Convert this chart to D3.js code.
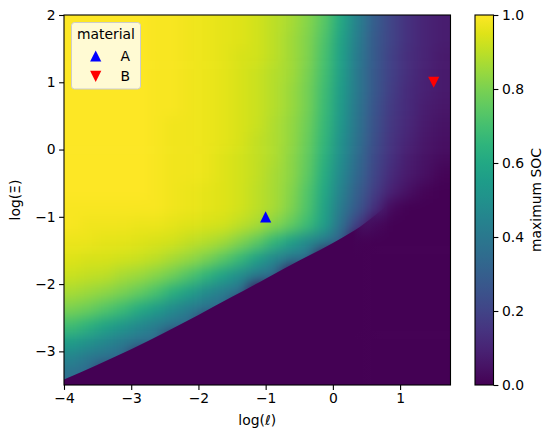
<!DOCTYPE html>
<html>
<head>
<meta charset="utf-8">
<script src="https://cdn.jsdelivr.net/npm/d3@7"></script>
<style>
  body { margin: 0; background: #fff; }
  svg text { font-family: "DejaVu Sans", sans-serif; font-size: 13.9px; fill: #000; }
</style>
</head>
<body>
<svg id="chart" width="554" height="442"></svg>
<script>
// cell centres of the SOC grid
const logL = [-3.875, -3.625, -3.375, -3.125, -2.875, -2.625, -2.375, -2.125, -1.875, -1.625, -1.375, -1.125,
  -0.875, -0.625, -0.375, -0.125, 0.125, 0.375, 0.625, 0.875, 1.125, 1.375, 1.625];
const logXi = [1.875, 1.625, 1.375, 1.125, 0.875, 0.625, 0.375, 0.125, -0.125, -0.375, -0.625, -0.875,
  -1.125, -1.375, -1.625, -1.875, -2.125, -2.375, -2.625, -2.875, -3.125, -3.375];

// maximum SOC, one row per logXi value (top to bottom)
const soc = [
  [1.0,1.0,1.0,1.0,1.0,0.99,0.99,0.98,0.97,0.96,0.95,0.93,0.90,0.87,0.82,0.74,0.60,0.43,0.29,0.20,0.14,0.10,0.08],
  [1.0,1.0,1.0,1.0,1.0,0.99,0.99,0.98,0.97,0.96,0.95,0.93,0.90,0.86,0.81,0.72,0.58,0.42,0.28,0.20,0.14,0.10,0.08],
  [1.0,1.0,1.0,1.0,1.0,0.99,0.99,0.98,0.97,0.96,0.94,0.93,0.90,0.86,0.81,0.71,0.57,0.41,0.28,0.19,0.13,0.10,0.07],
  [1.0,1.0,1.0,1.0,1.0,0.99,0.99,0.98,0.97,0.96,0.94,0.92,0.89,0.86,0.80,0.70,0.56,0.40,0.27,0.19,0.13,0.09,0.07],
  [1.0,1.0,1.0,1.0,1.0,0.99,0.99,0.98,0.97,0.96,0.94,0.92,0.89,0.85,0.79,0.69,0.55,0.40,0.27,0.18,0.12,0.09,0.07],
  [1.0,1.0,1.0,1.0,1.0,0.99,0.99,0.98,0.97,0.96,0.94,0.92,0.89,0.85,0.79,0.68,0.54,0.39,0.26,0.17,0.12,0.08,0.06],
  [1.0,1.0,1.0,1.0,1.0,0.99,0.98,0.98,0.97,0.96,0.94,0.92,0.88,0.84,0.78,0.67,0.53,0.38,0.25,0.16,0.11,0.07,0.05],
  [1.0,1.0,1.0,1.0,1.0,0.99,0.98,0.98,0.97,0.96,0.94,0.91,0.88,0.84,0.77,0.66,0.51,0.37,0.24,0.15,0.10,0.06,0.04],
  [1.0,1.0,1.0,1.0,1.0,0.99,0.98,0.98,0.97,0.95,0.93,0.91,0.88,0.83,0.76,0.64,0.49,0.35,0.22,0.14,0.08,0.05,0.03],
  [1.0,1.0,1.0,1.0,1.0,0.99,0.98,0.98,0.97,0.95,0.93,0.91,0.87,0.83,0.75,0.62,0.47,0.33,0.21,0.12,0.07,0.04,0.01],
  [1.0,1.0,1.0,1.0,1.0,0.99,0.98,0.97,0.96,0.95,0.93,0.90,0.87,0.82,0.73,0.60,0.44,0.30,0.18,0.09,0.04,0.01,0.0],
  [0.99,0.99,0.99,0.99,0.99,0.99,0.98,0.97,0.96,0.95,0.93,0.90,0.87,0.81,0.72,0.58,0.41,0.27,0.14,0.02,0.0,0.0,0.0],
  [0.99,0.98,0.98,0.98,0.97,0.97,0.96,0.95,0.94,0.93,0.90,0.87,0.82,0.76,0.68,0.56,0.37,0.18,0.03,0.0,0.0,0.0,0.0],
  [0.97,0.97,0.96,0.96,0.95,0.94,0.93,0.91,0.89,0.86,0.81,0.75,0.66,0.57,0.48,0.41,0.30,0.0,0.0,0.0,0.0,0.0,0.0],
  [0.95,0.94,0.94,0.93,0.92,0.90,0.87,0.84,0.80,0.74,0.67,0.57,0.47,0.40,0.36,0.0,0.0,0.0,0.0,0.0,0.0,0.0,0.0],
  [0.92,0.91,0.90,0.87,0.85,0.82,0.78,0.72,0.65,0.57,0.49,0.41,0.35,0.0,0.0,0.0,0.0,0.0,0.0,0.0,0.0,0.0,0.0],
  [0.87,0.85,0.83,0.80,0.76,0.71,0.63,0.56,0.48,0.42,0.36,0.0,0.0,0.0,0.0,0.0,0.0,0.0,0.0,0.0,0.0,0.0,0.0],
  [0.80,0.77,0.73,0.68,0.61,0.55,0.48,0.42,0.37,0.33,0.0,0.0,0.0,0.0,0.0,0.0,0.0,0.0,0.0,0.0,0.0,0.0,0.0],
  [0.69,0.64,0.58,0.53,0.47,0.42,0.37,0.33,0.0,0.0,0.0,0.0,0.0,0.0,0.0,0.0,0.0,0.0,0.0,0.0,0.0,0.0,0.0],
  [0.55,0.50,0.46,0.41,0.37,0.34,0.0,0.0,0.0,0.0,0.0,0.0,0.0,0.0,0.0,0.0,0.0,0.0,0.0,0.0,0.0,0.0,0.0],
  [0.44,0.39,0.36,0.33,0.0,0.0,0.0,0.0,0.0,0.0,0.0,0.0,0.0,0.0,0.0,0.0,0.0,0.0,0.0,0.0,0.0,0.0,0.0],
  [0.36,0.33,0.0,0.0,0.0,0.0,0.0,0.0,0.0,0.0,0.0,0.0,0.0,0.0,0.0,0.0,0.0,0.0,0.0,0.0,0.0,0.0,0.0]
];

// edge of the zero-SOC region (log ℓ, log Ξ); sharp on the left, fading out past log ℓ ≈ 0.3
const edgeL = [-4, -3.5, -3, -2.5, -2, -1.5, -1, -0.5, 0, 0.25, 0.4, 0.6, 0.9, 1.2, 1.5, 1.75];
const edgeXi = [-3.42, -3.2, -2.97, -2.72, -2.46, -2.19, -1.92, -1.65, -1.39, -1.245, -1.15, -1.0, -0.75, -0.5, -0.26, -0.05];
const edgeFade = [0.3, 0.8];

// the two materials
const materials = ["A", "B"];
const matLogL = [-1, 1.5];
const matLogXi = [-1, 1];
const matColors = ["#0000ff", "#ff0000"];

const xTicks = [-4, -3, -2, -1, 0, 1];
const yTicks = [-3, -2, -1, 0, 1, 2];
const cTicks = [0, 0.2, 0.4, 0.6, 0.8, 1.0];

const PLOT = { left: 64, right: 450.5, top: 15, bottom: 385 };
const CBAR = { left: 475, right: 493.5 };
const TICK = 4.9;
const LW = 1.1;

const $svg = d3.select('#chart');
const defs = $svg.append('defs');

const x = d3.scaleLinear().domain([-4, 1.75]).range([PLOT.left, PLOT.right]);
const y = d3.scaleLinear().domain([-3.5, 2]).range([PLOT.bottom, PLOT.top]);
const colour = d3.scaleSequential(d3.interpolateViridis).domain([0, 1]);

// heat map -------------------------------------------------------------
defs.append('clipPath').attr('id', 'plotclip')
  .append('rect')
  .attr('x', PLOT.left).attr('y', PLOT.top)
  .attr('width', PLOT.right - PLOT.left).attr('height', PLOT.bottom - PLOT.top);

defs.append('filter').attr('id', 'smooth')
  .attr('filterUnits', 'userSpaceOnUse')
  .attr('x', 0).attr('y', 0).attr('width', 554).attr('height', 442)
  .attr('color-interpolation-filters', 'sRGB')
  .append('feGaussianBlur').attr('in', 'SourceGraphic').attr('stdDeviation', 6.5);

const stepL = logL[1] - logL[0];
const stepXi = logXi[0] - logXi[1];
const cells = [];
soc.forEach((row, j) => row.forEach((v, i) => cells.push({ i, j, lx: logL[i], ly: logXi[j], v })));

const pad = 30; // stretch outer cells so the blur has no edge fade
const $plot = $svg.append('g').attr('clip-path', 'url(#plotclip)');
const $heat = $plot.append('g').attr('filter', 'url(#smooth)');

$heat.selectAll('rect')
  .data(cells)
  .enter().append('rect')
  .attr('x', d => x(d.lx - stepL / 2) - (d.i === 0 ? pad : 0) - 0.3)
  .attr('y', d => y(d.ly + stepXi / 2) - (d.j === 0 ? pad : 0) - 0.3)
  .attr('width', d => x(d.lx + stepL / 2) - x(d.lx - stepL / 2) + 0.6 + (d.i === 0 || d.i === logL.length - 1 ? pad : 0))
  .attr('height', d => y(d.ly - stepXi / 2) - y(d.ly + stepXi / 2) + 0.6 + (d.j === 0 || d.j === logXi.length - 1 ? pad : 0))
  .attr('fill', d => colour(d.v));

// sharp lower edge of the zero region, fading out to the right
const fade = defs.append('linearGradient').attr('id', 'edgefade')
  .attr('gradientUnits', 'userSpaceOnUse')
  .attr('x1', x(edgeFade[0])).attr('x2', x(edgeFade[1])).attr('y1', 0).attr('y2', 0);
fade.append('stop').attr('offset', 0).attr('stop-color', colour(0)).attr('stop-opacity', 1);
fade.append('stop').attr('offset', 1).attr('stop-color', colour(0)).attr('stop-opacity', 0);

const zeroArea = d3.area()
  .x(d => x(d[0]))
  .y0(PLOT.bottom + 10)
  .y1(d => y(d[1]))
  .curve(d3.curveMonotoneX);

$plot.append('path')
  .datum(edgeL.map((l, k) => [l, edgeXi[k]]))
  .attr('d', zeroArea)
  .attr('fill', 'url(#edgefade)');

// axes -------------------------------------------------------------------
const fmtInt = d3.format('d');
const axisX = d3.axisBottom(x).tickValues(xTicks).tickSize(TICK).tickPadding(3.5).tickFormat(fmtInt);
const axisY = d3.axisLeft(y).tickValues(yTicks).tickSize(TICK).tickPadding(3.5).tickFormat(fmtInt);

const $gx = $svg.append('g').attr('transform', `translate(0,${PLOT.bottom})`).call(axisX);
const $gy = $svg.append('g').attr('transform', `translate(${PLOT.left},0)`).call(axisY);
[$gx, $gy].forEach(g => {
  g.select('.domain').remove();
  g.selectAll('line').attr('stroke', '#000').attr('stroke-width', LW);
  g.attr('font-size', null).attr('font-family', null);
});

$svg.append('rect')
  .attr('x', PLOT.left).attr('y', PLOT.top)
  .attr('width', PLOT.right - PLOT.left).attr('height', PLOT.bottom - PLOT.top)
  .attr('fill', 'none').attr('stroke', '#000').attr('stroke-width', LW);

$svg.append('text')
  .attr('x', (PLOT.left + PLOT.right) / 2).attr('y', 425)
  .attr('text-anchor', 'middle')
  .text('log(ℓ)');

$svg.append('text')
  .attr('transform', `translate(20,${(PLOT.top + PLOT.bottom) / 2}) rotate(-90)`)
  .attr('text-anchor', 'middle')
  .text('log(Ξ)');

// material markers -------------------------------------------------------
function tri(cx, cy, r, up) {
  const s = up ? 1 : -1;
  return `M${cx},${cy - s * r}L${cx - r},${cy + s * r}L${cx + r},${cy + s * r}Z`;
}

$svg.append('g').selectAll('path')
  .data(materials)
  .enter().append('path')
  .attr('d', (m, k) => tri(x(matLogL[k]), y(matLogXi[k]), 5.6, k === 0))
  .attr('fill', (m, k) => matColors[k]);

// legend
const $leg = $svg.append('g');
$leg.append('rect')
  .attr('x', 71.5).attr('y', 22.5).attr('width', 69).attr('height', 66.5).attr('rx', 3)
  .attr('fill', '#fff').attr('fill-opacity', 0.8)
  .attr('stroke', '#cccccc').attr('stroke-width', 1);
$leg.append('text').attr('x', 106).attr('y', 39).attr('text-anchor', 'middle').text('material');
materials.forEach((m, k) => {
  const cy = 56 + k * 20.3;
  $leg.append('path').attr('d', tri(95.7, cy, 5.6, k === 0)).attr('fill', matColors[k]);
  $leg.append('text').attr('x', 120.5).attr('y', cy + 4.8).text(m);
});

// colour bar -------------------------------------------------------------
const cy = d3.scaleLinear().domain([0, 1]).range([PLOT.bottom, PLOT.top]);
const grad = defs.append('linearGradient').attr('id', 'cbgrad')
  .attr('x1', 0).attr('y1', 1).attr('x2', 0).attr('y2', 0);
grad.selectAll('stop')
  .data(d3.range(0, 1.0001, 0.05))
  .enter().append('stop')
  .attr('offset', d => d)
  .attr('stop-color', d => colour(d));

$svg.append('rect')
  .attr('x', CBAR.left).attr('y', PLOT.top)
  .attr('width', CBAR.right - CBAR.left).attr('height', PLOT.bottom - PLOT.top)
  .attr('fill', 'url(#cbgrad)')
  .attr('stroke', '#000').attr('stroke-width', LW);

const axisC = d3.axisRight(cy).tickValues(cTicks).tickSize(TICK).tickPadding(3.5).tickFormat(d3.format('.1f'));
const $gc = $svg.append('g').attr('transform', `translate(${CBAR.right},0)`).call(axisC);
$gc.select('.domain').remove();
$gc.selectAll('line').attr('stroke', '#000').attr('stroke-width', LW);
$gc.attr('font-size', null).attr('font-family', null);

$svg.append('text')
  .attr('transform', `translate(541,${(PLOT.top + PLOT.bottom) / 2}) rotate(-90)`)
  .attr('text-anchor', 'middle')
  .text('maximum SOC');
</script>
</body>
</html>
